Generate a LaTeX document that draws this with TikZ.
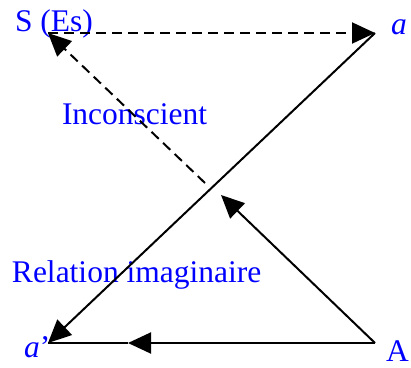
\documentclass[tikz,border=0pt]{standalone}
\usepackage{fontspec}
\setmainfont{Liberation Serif}
\usepackage{tikz}
\usetikzlibrary{arrows.meta}

\begin{document}
\begin{tikzpicture}[x=1pt, y=1pt, line width=2pt,
    every node/.style={text=blue, inner sep=0pt, anchor=base west,
                       font=\fontsize{31.5}{36}\selectfont},
    tip/.style={-{Triangle[length=23pt, width=21pt]}}]
  \useasboundingbox (0,0) rectangle (411,367);

  % corners of the schema
  \coordinate (es)  at (48,334);
  \coordinate (moi) at (375,334);
  \coordinate (ap)  at (48,24);
  \coordinate (autre) at (375,24);
  \coordinate (cut) at (205,184);
  \coordinate (hit) at (221,172);
  \coordinate (half) at (128,24);

  % labels
  \node (lS) at (14,335) {S (Es)};
  \node (la) at (390,332) {\textit{a}};
  \node (lap) at (23,10) {\textit{a}’};
  \node (lA) at (385,6) {A};
  \node (lInc) at (61,242) {Inconscient};
  \node (lRel) at (11,85) {Relation imaginaire};

  % dashed part
  \draw[tip, dashed, dash pattern=on 10pt off 6pt] (es) -- (moi);
  \draw[tip, dashed, dash pattern=on 10pt off 6pt] (cut) -- (es);

  % solid part
  \draw[tip] (moi) -- (ap);
  \draw[tip] (autre) -- (hit);
  \draw[tip] (autre) -- (half);
  \draw (half) -- (ap);
\end{tikzpicture}
\end{document}
